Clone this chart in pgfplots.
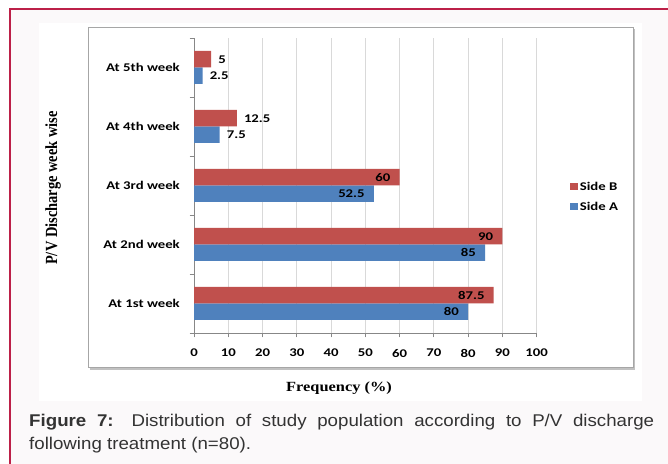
\documentclass[border=0pt]{standalone}
\usepackage{fontspec}
\setmainfont{Liberation Sans}
\newfontfamily\capfont[FakeStretch=1.1]{Liberation Sans}
\newfontfamily\calfont[FakeStretch=1.25]{Carlito}
\newfontfamily\serfont[FakeStretch=1.17]{Liberation Serif}
\newfontfamily\yserfont[FakeStretch=0.85]{Liberation Serif}
\usepackage{pgfplots}
\pgfplotsset{compat=1.18}
\definecolor{sideA}{HTML}{4F81BD}
\definecolor{sideB}{HTML}{C0504D}
\definecolor{brd}{HTML}{BC2048}
\definecolor{pagebg}{HTML}{FBF9FA}
\definecolor{frm}{HTML}{A6A6A6}
\definecolor{gridc}{HTML}{D9D9D9}
\definecolor{axc}{HTML}{878787}
\newcommand{\calb}{\calfont\bfseries\fontsize{11.8bp}{13bp}\selectfont}
\pgfplotsset{
  inlab/.style={nodes near coords, every node near coord/.append style={font=\calb, anchor=east, inner sep=0pt, xshift=-9bp, text=black}},
  outlab/.style={nodes near coords, every node near coord/.append style={font=\calb, anchor=west, inner sep=0pt, xshift=7bp, text=black}},
}
\begin{document}
\begin{tikzpicture}[x=1bp,y=1bp]
\useasboundingbox (0,0) rectangle (668,464);
\fill[pagebg] (10,-10) rectangle (680,455);
\draw[brd, line width=1.5bp] (10,-10) -- (10,455) -- (680,455);
\fill[white] (39,63) rectangle (642,441);
\draw[frm!70, line width=1.5bp] (89.5,94.8) -- (634.6,94.8) -- (634.6,435);
\draw[frm, line width=1bp] (88,96) rectangle (633,436);
\begin{axis}[
  at={(194bp,131bp)}, anchor=south west,
  scale only axis, width=342.5bp, height=295bp,
  xbar, bar width=16.5bp,
  xmin=0, xmax=100, ymin=-0.5, ymax=4.5,
  axis x line*=bottom, axis y line*=left,
  axis line style={axc, line width=0.8bp},
  xtick={0,10,...,100},
  xmajorgrids, grid style={gridc, line width=0.8bp},
  tick align=outside, major tick length=4.5bp,
  tick style={axc, line width=0.8bp},
  ytick={-0.5,0.5,...,4.5}, yticklabels={},
  extra y ticks={0,1,2,3,4},
  extra y tick labels={At 1st week, At 2nd week, At 3rd week, At 4th week, At 5th week},
  extra y tick style={major tick length=0pt, grid=none,
     yticklabel style={font=\calb, inner sep=0pt, xshift=-14bp}},
  xticklabel style={font=\calb, yshift=-8bp},
  /pgf/number format/assume math mode=true,
  point meta=x,
  legend style={at={(axis description cs:1.098,0.519)}, anchor=north west,
     draw=none, fill=none, font=\calb, inner sep=0pt, row sep=6bp,
     nodes={inner sep=2bp}},
  legend cell align=left,
  reverse legend,
  legend image code/.code={\fill[#1, draw=none] (0bp,-3.5bp) rectangle (7.5bp,3.5bp);},
]
\addplot[fill=sideA, draw=none, bar shift=-8.25bp, inlab] coordinates {(80,0) (85,1) (52.5,2)};
\addlegendentry{Side A}
\addplot[fill=sideB, draw=none, bar shift=8.25bp, inlab] coordinates {(87.5,0) (90,1) (60,2)};
\addlegendentry{Side B}
\addplot[fill=sideA, draw=none, bar shift=-8.25bp, outlab, forget plot] coordinates {(7.5,3) (2.5,4)};
\addplot[fill=sideB, draw=none, bar shift=8.25bp, outlab, forget plot] coordinates {(12.5,3) (5,4)};
\end{axis}
\node[rotate=90, font={\yserfont\bfseries\fontsize{17bp}{19bp}\selectfont}] at (53,276) {P/V Discharge week wise};
\node[font={\serfont\bfseries\fontsize{14bp}{16bp}\selectfont}] at (339,76) {Frequency (\%)};
\node[anchor=base west, text width=625bp, align=justify, inner sep=0pt, text=black!80,
  font={\capfont\fontsize{17bp}{23bp}\selectfont}] at (29,37)
  {\textbf{Figure 7:} Distribution of study population according to P/V discharge\linebreak following treatment (n=80).};
\end{tikzpicture}
\end{document}
